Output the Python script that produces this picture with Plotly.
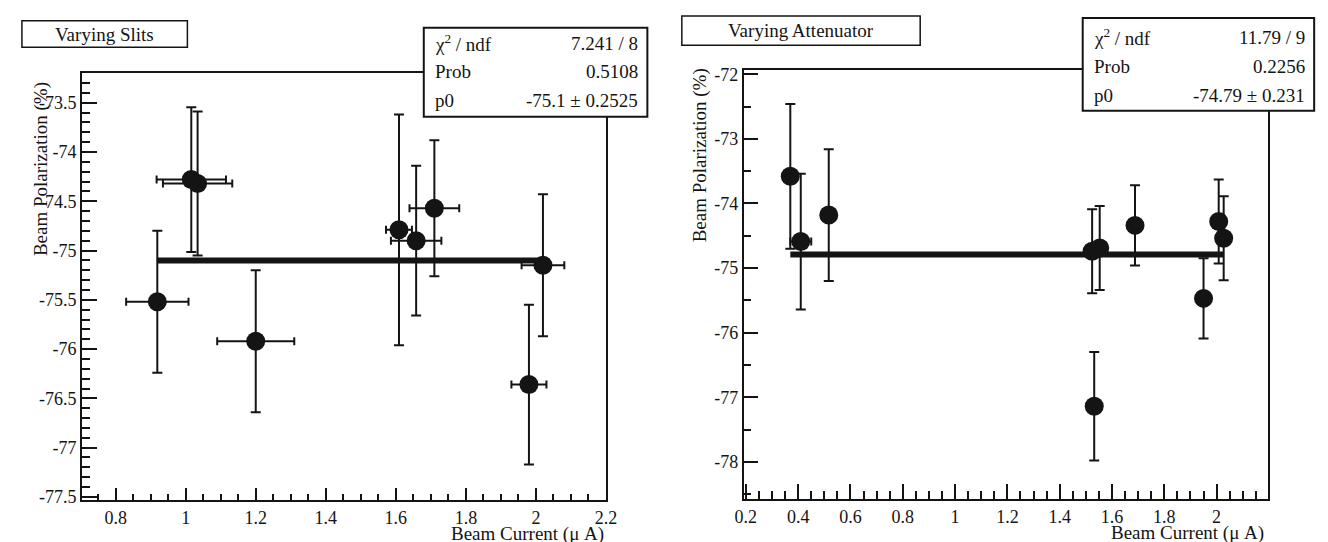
import plotly.graph_objects as go

# ---------------- data ----------------
# Left panel: Varying Slits
slits_current = [0.919, 1.016, 1.034, 1.200, 1.609, 1.658, 1.710, 2.020, 1.980]
slits_current_err = [0.089, 0.099, 0.099, 0.110, 0.037, 0.072, 0.071, 0.061, 0.050]
slits_pol = [-75.52, -74.28, -74.32, -75.92, -74.79, -74.90, -74.57, -75.15, -76.36]
slits_pol_err = [0.72, 0.735, 0.73, 0.72, 1.17, 0.76, 0.69, 0.72, 0.81]
slits_p0 = -75.1
slits_stats = [("χ<sup>2</sup> / ndf", "7.241 / 8"), ("Prob", "0.5108"), ("p0", "-75.1 ± 0.2525")]

# Right panel: Varying Attenuator
att_current = [0.370, 0.410, 0.517, 1.524, 1.553, 1.688, 2.008, 2.027, 1.950, 1.532]
att_current_err = [0.005, 0.040, 0.005, 0.010, 0.010, 0.020, 0.010, 0.010, 0.005, 0.010]
att_pol = [-73.58, -74.59, -74.18, -74.74, -74.69, -74.34, -74.28, -74.54, -75.47, -77.14]
att_pol_err = [1.12, 1.05, 1.02, 0.65, 0.65, 0.62, 0.65, 0.65, 0.62, 0.84]
att_p0 = -74.79
att_stats = [("χ<sup>2</sup> / ndf", "11.79 / 9"), ("Prob", "0.2256"), ("p0", "-74.79 ± 0.231")]

# tick labels
slits_xticks = [0.8, 1.0, 1.2, 1.4, 1.6, 1.8, 2.0, 2.2]
slits_xticklabels = ["0.8", "1", "1.2", "1.4", "1.6", "1.8", "2", "2.2"]
slits_yticks = [-77.5, -77, -76.5, -76, -75.5, -75, -74.5, -74, -73.5]
slits_yticklabels = ["-77.5", "-77", "-76.5", "-76", "-75.5", "-75", "-74.5", "-74", "-73.5"]
att_xticks = [0.2, 0.4, 0.6, 0.8, 1.0, 1.2, 1.4, 1.6, 1.8, 2.0]
att_xticklabels = ["0.2", "0.4", "0.6", "0.8", "1", "1.2", "1.4", "1.6", "1.8", "2"]
att_yticks = [-78, -77, -76, -75, -74, -73, -72]
att_yticklabels = ["-78", "-77", "-76", "-75", "-74", "-73", "-72"]

titles = ["Varying Slits", "Varying Attenuator"]
x_title = "Beam Current (μ A)"
y_title = "Beam Polarization (%)"

# ---------------- layout helpers ----------------
W, H = 1328, 542
INK = "#141414"
FONT = "Liberation Serif, Times New Roman, serif"


def px(x):
    return x / W


def py(y):
    return 1 - y / H


fig = go.Figure()

panels = [
    dict(xs=slits_current, xe=slits_current_err, ys=slits_pol, ye=slits_pol_err, p0=slits_p0,
         xa="x", ya="y"),
    dict(xs=att_current, xe=att_current_err, ys=att_pol, ye=att_pol_err, p0=att_p0,
         xa="x2", ya="y2"),
]

for p in panels:
    fig.add_trace(go.Scatter(
        x=p["xs"], y=p["ys"], mode="markers", xaxis=p["xa"], yaxis=p["ya"],
        marker=dict(size=19, color=INK, line=dict(width=0)),
        error_x=dict(type="data", array=p["xe"], visible=True, thickness=2, width=4, color=INK),
        error_y=dict(type="data", array=p["ye"], visible=True, thickness=2, width=5, color=INK),
        showlegend=False, cliponaxis=False,
    ))
    fig.add_trace(go.Scatter(
        x=[min(p["xs"]), max(p["xs"])], y=[p["p0"], p["p0"]], mode="lines",
        xaxis=p["xa"], yaxis=p["ya"], line=dict(color=INK, width=6), showlegend=False,
    ))


def axis_common():
    return dict(showline=True, linecolor=INK, linewidth=2, mirror=True, showgrid=False,
                zeroline=False, ticks="inside", tickcolor=INK, tickwidth=2,
                tickfont=dict(family=FONT, size=18, color=INK), tickmode="array")


# left frame: x 66..598, y 61..498
fig.update_layout(
    xaxis=dict(**axis_common(), domain=[px(66), px(598)], range=[0.704, 2.2],
               tickvals=slits_xticks, ticktext=slits_xticklabels, ticklen=12,
               minor=dict(tickmode="linear", tick0=0.75, dtick=0.05, ticks="inside",
                          ticklen=6, tickwidth=2, tickcolor=INK, showgrid=False),
               anchor="y"),
    yaxis=dict(**axis_common(), domain=[py(498), py(61)], range=[-77.531, -73.195],
               tickvals=slits_yticks, ticktext=slits_yticklabels, ticklen=15,
               minor=dict(tickmode="linear", tick0=-77.5, dtick=0.1, ticks="inside",
                          ticklen=8, tickwidth=2, tickcolor=INK, showgrid=False),
               anchor="x"),
    xaxis2=dict(**axis_common(), domain=[px(738), px(1270)], range=[0.1925, 2.196],
                tickvals=att_xticks, ticktext=att_xticklabels, ticklen=15,
                minor=dict(tickmode="linear", tick0=0.2, dtick=0.05, ticks="inside",
                           ticklen=8, tickwidth=2, tickcolor=INK, showgrid=False),
                anchor="y2"),
    yaxis2=dict(**axis_common(), domain=[py(497), py(58)], range=[-78.575, -71.93],
                tickvals=att_yticks, ticktext=att_yticklabels, ticklen=14,
                minor=dict(tickmode="linear", tick0=-78, dtick=0.5, ticks="inside",
                           ticklen=7, tickwidth=2, tickcolor=INK, showgrid=False),
                anchor="x2"),
)

shapes = []
annotations = []

# title boxes
title_boxes = [(5, 8, 173, 35), (675, 3, 917, 33)]
for (x0, y0, x1, y1), t in zip(title_boxes, titles):
    shapes.append(dict(type="rect", xref="paper", yref="paper", x0=px(x0), x1=px(x1),
                       y0=py(y1), y1=py(y0), line=dict(color=INK, width=1.5),
                       fillcolor="white", layer="above"))
    annotations.append(dict(xref="paper", yref="paper", x=px((x0 + x1) / 2), y=py((y0 + y1) / 2),
                            text=t, showarrow=False, xanchor="center", yanchor="middle",
                            font=dict(family=FONT, size=19, color=INK)))

# stats boxes
stat_boxes = [((413, 15, 640, 106), [31, 60, 89], slits_stats),
              ((1082, 5, 1317, 100), [25, 55, 84], att_stats)]
for (x0, y0, x1, y1), rows, stats in stat_boxes:
    shapes.append(dict(type="rect", xref="paper", yref="paper", x0=px(x0), x1=px(x1),
                       y0=py(y1), y1=py(y0), line=dict(color=INK, width=2),
                       fillcolor="white", layer="above"))
    for ry, (k, v) in zip(rows, stats):
        annotations.append(dict(xref="paper", yref="paper", x=px(x0 + 9), y=py(ry), text=k,
                                showarrow=False, xanchor="left", yanchor="middle",
                                font=dict(family=FONT, size=19, color=INK)))
        annotations.append(dict(xref="paper", yref="paper", x=px(x1 - 7), y=py(ry), text=v,
                                showarrow=False, xanchor="right", yanchor="middle",
                                font=dict(family=FONT, size=19, color=INK)))

# axis titles
for xr, yc in [(598, 533), (1268, 532)]:
    annotations.append(dict(xref="paper", yref="paper", x=px(xr), y=py(yc), text=x_title,
                            showarrow=False, xanchor="right", yanchor="middle",
                            font=dict(family=FONT, size=19, color=INK)))
for xc, yc in [(25, 160), (693, 146)]:
    annotations.append(dict(xref="paper", yref="paper", x=px(xc), y=py(yc), text=y_title,
                            showarrow=False, xanchor="center", yanchor="middle", textangle=-90,
                            font=dict(family=FONT, size=19, color=INK)))

fig.update_layout(
    width=W, height=H, autosize=False,
    margin=dict(l=0, r=0, t=0, b=0),
    paper_bgcolor="white", plot_bgcolor="white",
    shapes=shapes, annotations=annotations, showlegend=False,
)

fig.write_html("out.html")
